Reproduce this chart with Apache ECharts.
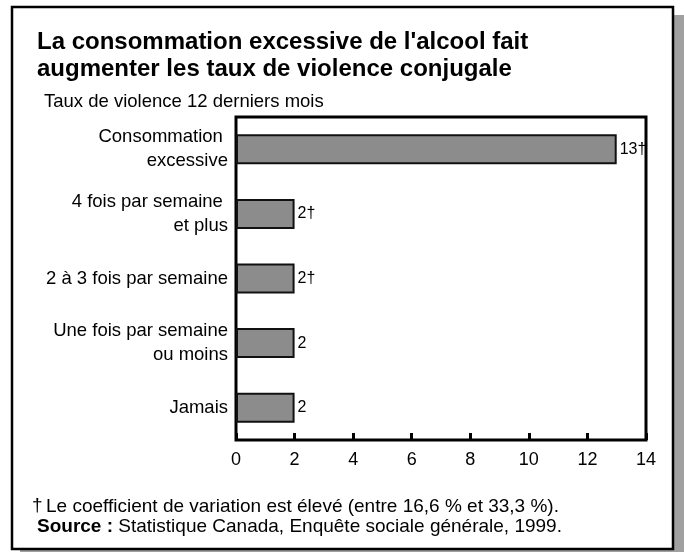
<!DOCTYPE html>
<html>
<head>
<meta charset="utf-8">
<script src="https://cdn.jsdelivr.net/npm/echarts@6/dist/echarts.min.js"></script>
<style>
  html, body { margin: 0; padding: 0; background: #fff; }
  #chart { width: 684px; height: 552px; }
</style>
</head>
<body>
<div id="chart"></div>
<script>
var FONT = "'Liberation Sans', Arial, sans-serif";

// données
var categories = [
    'Consommation \nexcessive',
    '4 fois par semaine \net plus',
    '2 à 3 fois par semaine',
    'Une fois par semaine\nou moins',
    'Jamais'
];
var values = [13, 2, 2, 2, 2];
var highCV = [true, true, true, false, false];   // marqués d'une croix †
var xTicks = [0, 2, 4, 6, 8, 10, 12, 14];

var titleText = "La consommation excessive de l'alcool fait\naugmenter les taux de violence conjugale";
var subTitle = 'Taux de violence 12 derniers mois';
var noteText = 'Le coefficient de variation est élevé (entre 16,6 % et 33,3 %).';
var sourceText = 'Statistique Canada, Enquête sociale générale, 1999.';

var myChart = echarts.init(document.getElementById('chart'));

var option = {
    backgroundColor: '#fff',
    animation: false,
    textStyle: { fontFamily: FONT },
    grid: {
        left: 236,
        right: 38,
        top: 117,
        bottom: 112,
        show: true,
        borderColor: '#000',
        borderWidth: 3,
        backgroundColor: 'transparent'
    },
    xAxis: {
        type: 'value',
        min: xTicks[0],
        max: xTicks[xTicks.length - 1],
        interval: 2,
        splitLine: { show: false },
        axisLine: { show: false },
        axisTick: {
            show: true,
            inside: true,
            length: 7,
            lineStyle: { color: '#000', width: 3 }
        },
        axisLabel: {
            color: '#000',
            fontSize: 18,
            fontFamily: FONT,
            margin: 11
        }
    },
    yAxis: {
        type: 'category',
        inverse: true,
        data: categories,
        axisLine: { show: false },
        axisTick: { show: false },
        axisLabel: {
            color: '#000',
            fontSize: 18.5,
            lineHeight: 24,
            fontFamily: FONT,
            align: 'right',
            margin: 8
        }
    },
    series: [{
        type: 'bar',
        data: values,
        barWidth: 30,
        itemStyle: {
            color: '#8c8c8c',
            borderColor: '#111',
            borderWidth: 2
        },
        label: {
            show: true,
            position: 'right',
            distance: 3,
            color: '#000',
            fontSize: 16,
            fontFamily: FONT,
            formatter: function (p) {
                return p.value + (highCV[p.dataIndex] ? '†' : '');
            }
        }
    }],
    graphic: [
        {   // ombre du cadre
            type: 'rect',
            z: -2,
            shape: { x: 20, y: 15, width: 670, height: 545 },
            style: { fill: '#a0a0a0' }
        },
        {   // cadre
            type: 'rect',
            z: -1,
            shape: { x: 12, y: 7, width: 661, height: 542 },
            style: { fill: '#fff', stroke: '#000', lineWidth: 2.5 }
        },
        {
            type: 'text',
            z: 10,
            style: {
                x: 37, y: 29,
                text: titleText,
                font: 'bold 24px ' + FONT,
                lineHeight: 27,
                fill: '#000'
            }
        },
        {
            type: 'text',
            z: 10,
            style: {
                x: 44, y: 101.5,
                text: subTitle,
                font: '18.5px ' + FONT,
                textVerticalAlign: 'middle',
                fill: '#000'
            }
        },
        {
            type: 'text',
            z: 10,
            style: {
                x: 32, y: 506,
                text: '†',
                font: '19px ' + FONT,
                textVerticalAlign: 'middle',
                fill: '#000'
            }
        },
        {
            type: 'text',
            z: 10,
            style: {
                x: 46, y: 507,
                text: noteText,
                font: '19px ' + FONT,
                textVerticalAlign: 'middle',
                fill: '#000'
            }
        },
        {
            type: 'text',
            z: 10,
            style: {
                x: 37, y: 527,
                text: '{b|Source :} ' + sourceText,
                font: '19px ' + FONT,
                textVerticalAlign: 'middle',
                fill: '#000',
                rich: {
                    b: { font: 'bold 19px ' + FONT, fill: '#000' }
                }
            }
        }
    ]
};

myChart.setOption(option);
</script>
</body>
</html>
